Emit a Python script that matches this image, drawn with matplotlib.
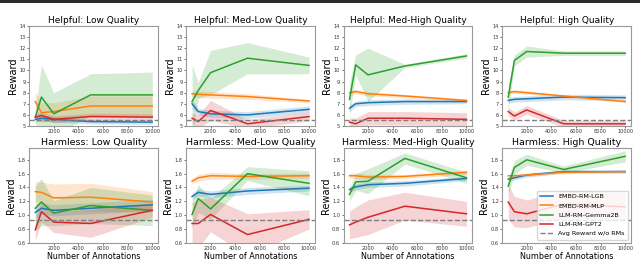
import numpy as np
import matplotlib
matplotlib.use('Agg')
import matplotlib.pyplot as plt
from matplotlib.patches import Rectangle

# annotations on the x axis
N_ANN = [500, 1000, 2000, 5000, 10000]

HELPFUL_TITLES = ['Helpful: Low Quality', 'Helpful: Med-Low Quality',
                  'Helpful: Med-High Quality', 'Helpful: High Quality']
HARMLESS_TITLES = ['Harmless: Low Quality', 'Harmless: Med-Low Quality',
                   'Harmless: Med-High Quality', 'Harmless: High Quality']
MODELS = ['EMBD-RM-LGB', 'EMBD-RM-MLP', 'LLM-RM-Gemma2B', 'LLM-RM-GPT2']
BASELINE_LABEL = 'Avg Reward w/o RMs'
HELPFUL_BASE = 5.55
HARMLESS_BASE = 0.93

# helpful: rows = quality level (low, med-low, med-high, high)
LGB_HELP = [[5.6, 5.7, 5.6, 5.4, 5.35], [7.0, 6.3, 6.1, 6.0, 6.5],
            [6.6, 7.0, 7.1, 7.2, 7.2], [7.3, 7.4, 7.45, 7.6, 7.55]]
LGB_HELP_ERR = [[0.25, 0.25, 0.25, 0.2, 0.2], [0.4, 0.3, 0.3, 0.3, 0.3],
                [0.3, 0.25, 0.25, 0.25, 0.2], [0.25, 0.25, 0.25, 0.25, 0.25]]
MLP_HELP = [[7.2, 6.2, 6.3, 6.8, 6.8], [7.9, 7.85, 7.8, 7.65, 7.25],
            [8.0, 8.1, 7.9, 7.7, 7.3], [8.0, 8.1, 8.0, 7.7, 7.2]]
MLP_HELP_ERR = [[0.9, 0.9, 0.8, 0.9, 0.9], [0.3, 0.3, 0.3, 0.25, 0.15],
                [0.2, 0.2, 0.2, 0.15, 0.1], [0.15, 0.15, 0.15, 0.1, 0.1]]
GEMMA_HELP = [[5.8, 7.6, 6.1, 7.8, 7.8], [7.2, 8.2, 9.8, 11.1, 10.45],
              [7.4, 10.5, 9.6, 10.4, 11.3], [7.6, 10.9, 11.7, 11.55, 11.55]]
GEMMA_HELP_ERR = [[0.6, 2.9, 1.9, 1.9, 2.05], [3.3, 0.7, 2.0, 1.4, 0.75],
                  [1.5, 0.9, 2.4, 0.15, 0.2], [1.2, 0.5, 0.5, 0.2, 0.2]]
GPT2_HELP = [[5.8, 5.95, 5.6, 5.85, 5.8], [5.7, 5.4, 6.4, 5.2, 5.85],
             [5.35, 5.2, 5.7, 5.7, 5.6], [6.3, 5.9, 6.45, 5.2, 5.2]]
GPT2_HELP_ERR = [[0.3, 0.3, 0.3, 0.3, 0.3], [0.5, 0.6, 0.9, 0.4, 0.4],
                 [0.4, 0.5, 0.6, 0.6, 0.6], [0.4, 0.35, 0.4, 0.3, 0.3]]

# harmless
LGB_HARM = [[1.04, 1.10, 1.07, 1.10, 1.15], [1.27, 1.33, 1.30, 1.35, 1.39],
            [1.37, 1.41, 1.44, 1.46, 1.53], [1.52, 1.54, 1.58, 1.63, 1.63]]
LGB_HARM_ERR = [[0.08, 0.08, 0.08, 0.08, 0.08], [0.05, 0.05, 0.05, 0.05, 0.04],
                [0.04, 0.04, 0.04, 0.04, 0.03], [0.03, 0.03, 0.03, 0.02, 0.02]]
MLP_HARM = [[1.34, 1.33, 1.25, 1.26, 1.19], [1.49, 1.54, 1.57, 1.56, 1.57],
            [1.57, 1.57, 1.55, 1.56, 1.62], [1.57, 1.57, 1.58, 1.62, 1.63]]
MLP_HARM_ERR = [[0.15, 0.15, 0.2, 0.2, 0.15], [0.04, 0.05, 0.05, 0.04, 0.04],
                [0.04, 0.04, 0.04, 0.03, 0.03], [0.02, 0.02, 0.02, 0.02, 0.02]]
GEMMA_HARM = [[1.10, 1.19, 1.03, 1.14, 1.07], [1.01, 1.24, 1.09, 1.60, 1.46],
              [1.30, 1.48, 1.49, 1.82, 1.54], [1.42, 1.69, 1.80, 1.66, 1.85]]
GEMMA_HARM_ERR = [[0.32, 0.34, 0.18, 0.26, 0.22], [0.2, 0.2, 0.15, 0.1, 0.18],
                  [0.1, 0.12, 0.18, 0.08, 0.08], [0.12, 0.1, 0.08, 0.05, 0.08]]
GPT2_HARM = [[0.79, 1.05, 0.90, 0.88, 1.07], [0.88, 0.88, 1.01, 0.72, 0.94],
             [0.86, 0.90, 0.97, 1.13, 1.02], [1.19, 1.05, 1.02, 1.16, 1.12]]
GPT2_HARM_ERR = [[0.15, 0.15, 0.15, 0.2, 0.1], [0.3, 0.35, 0.25, 0.3, 0.14],
                 [0.2, 0.22, 0.25, 0.2, 0.18], [0.25, 0.22, 0.2, 0.2, 0.2]]

COLORS = ['tab:blue', 'tab:orange', 'tab:green', 'tab:red']

plt.rcParams['font.family'] = 'DejaVu Sans'
fig = plt.figure(figsize=(6.4, 2.62), dpi=100)
fig.add_artist(Rectangle((0, 0.99), 1, 0.01, transform=fig.transFigure,
                         color='#2b2b2b', lw=0))

lefts = [0.046, 0.291, 0.537, 0.785]
W = 0.201
rows = [
    (0.519, 0.382, 6.5, HELPFUL_TITLES,
     [LGB_HELP, MLP_HELP, GEMMA_HELP, GPT2_HELP],
     [LGB_HELP_ERR, MLP_HELP_ERR, GEMMA_HELP_ERR, GPT2_HELP_ERR],
     HELPFUL_BASE, (5, 14), np.arange(5, 15, 1)),
    (0.073, 0.362, 6.8, HARMLESS_TITLES,
     [LGB_HARM, MLP_HARM, GEMMA_HARM, GPT2_HARM],
     [LGB_HARM_ERR, MLP_HARM_ERR, GEMMA_HARM_ERR, GPT2_HARM_ERR],
     HARMLESS_BASE, (0.6, 1.97), np.arange(0.6, 1.81, 0.2)),
]
x = np.array(N_ANN)
for ri, (bot, hgt, tfs, titles, means, errs, base, ylim, yt) in enumerate(rows):
    for ci in range(4):
        ax = fig.add_axes([lefts[ci], bot, W, hgt])
        for k in range(4):
            m = np.array(means[k][ci])
            e = np.array(errs[k][ci])
            ax.fill_between(x, m - e, m + e, color=COLORS[k], alpha=0.2, lw=0)
            ax.plot(x, m, color=COLORS[k], lw=1.1, label=MODELS[k])
        ax.axhline(base, color='gray', ls='--', lw=1.0, label=BASELINE_LABEL)
        ax.set_ylim(*ylim)
        ax.set_yticks(yt)
        if ri == 1:
            ax.set_yticklabels([f'{v:.1f}' for v in yt])
            ax.set_xlabel('Number of Annotations', fontsize=5.8, labelpad=0.5)
        ax.set_xticks([2000, 4000, 6000, 8000, 10000])
        ax.tick_params(labelsize=3.6, length=1.5, width=0.5, pad=1,
                       colors='#333333')
        for s in ax.spines.values():
            s.set_color('#999999')
            s.set_linewidth(0.8)
        ax.set_title(titles[ci], fontsize=tfs, pad=2)
        ax.set_ylabel('Reward', fontsize=7, labelpad=1)
        if ri == 1 and ci == 3:
            ax.legend(fontsize=4.6, loc='lower right', handlelength=2,
                      borderpad=0.5, labelspacing=0.6, frameon=True)

fig.savefig('out.png', dpi=100)
